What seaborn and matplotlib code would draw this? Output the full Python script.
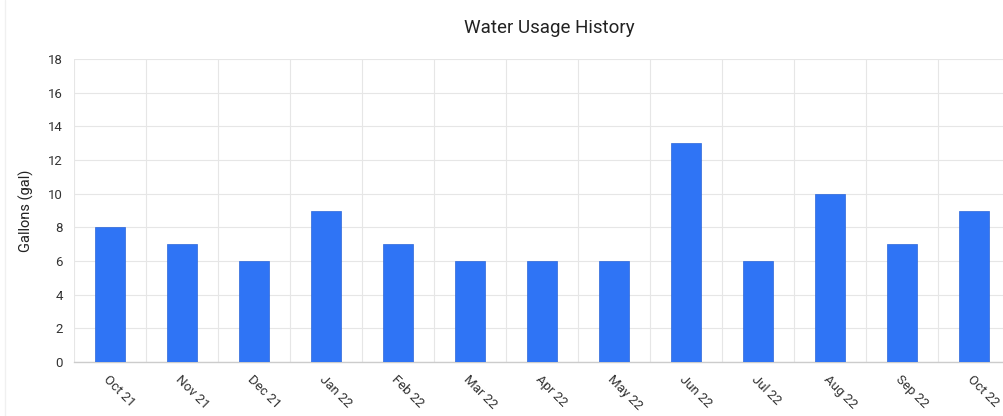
import matplotlib
matplotlib.use("Agg")
import matplotlib.pyplot as plt
from matplotlib.lines import Line2D
import seaborn as sns
import pandas as pd

months = ["Oct 21", "Nov 21", "Dec 21", "Jan 22", "Feb 22", "Mar 22", "Apr 22",
          "May 22", "Jun 22", "Jul 22", "Aug 22", "Sep 22", "Oct 22"]
gallons = [8, 7, 6, 9, 7, 6, 6, 6, 13, 6, 10, 7, 9]
y_ticks = [0, 2, 4, 6, 8, 10, 12, 14, 16, 18]

df = pd.DataFrame({"month": months, "gallons": gallons})

sns.set_style("white")
plt.rcParams["font.family"] = ["Roboto", "DejaVu Sans"]

W, H = 1004, 416
fig = plt.figure(figsize=(W / 100, H / 100), dpi=100)
ax = fig.add_axes([74 / W, (H - 362) / H, 936 / W, 303 / H])

sns.barplot(data=df, x="month", y="gallons", color="#2f74f5", width=0.42,
            edgecolor="#2c66d8", linewidth=0.5, ax=ax, zorder=3)
for p in ax.patches:
    p.set_facecolor("#2f74f5")

n = len(months)
ax.set_xlim(-0.5, n - 0.5)
ax.set_ylim(0, 18)
ax.set_yticks(y_ticks)
ax.set_yticklabels([str(t) for t in y_ticks], fontsize=9.5, color="#333333")

# vertical grid lines at category boundaries
bounds = [i - 0.5 for i in range(n + 1)]
ax.set_xticks(bounds, minor=True)
ax.set_xticks(range(n))
ax.set_xticklabels(months, rotation=-45, ha="left", va="top",
                   rotation_mode="anchor", fontsize=9.5, color="#333333")
ax.tick_params(axis="x", which="major", length=0, pad=8)
ax.tick_params(axis="x", which="minor", length=5, color="#e0e0e0", width=1)
ax.tick_params(axis="y", length=5, color="#e0e0e0", width=1, pad=3)
ax.grid(True, axis="x", which="minor", color="#e6e6e6", linewidth=0.8, zorder=0)
ax.grid(True, axis="y", which="major", color="#e6e6e6", linewidth=0.8, zorder=0)
ax.grid(False, axis="x", which="major")

for s in ["top", "right", "left"]:
    ax.spines[s].set_visible(False)
ax.spines["bottom"].set_color("#cccccc")
ax.spines["bottom"].set_linewidth(1)

ax.set_xlabel("")
ax.set_ylabel("Gallons (gal)", fontsize=10.5, color="#222222", labelpad=10)
fig.text(549 / W, 1 - 28 / H, "Water Usage History", ha="center", va="center",
         fontsize=13.5, color="#222222")

# faint card border on the left
fig.add_artist(Line2D([5 / W, 5 / W], [0, 1], transform=fig.transFigure,
                      color="#f0f0f0", linewidth=1))

fig.savefig("out.png", dpi=100)
